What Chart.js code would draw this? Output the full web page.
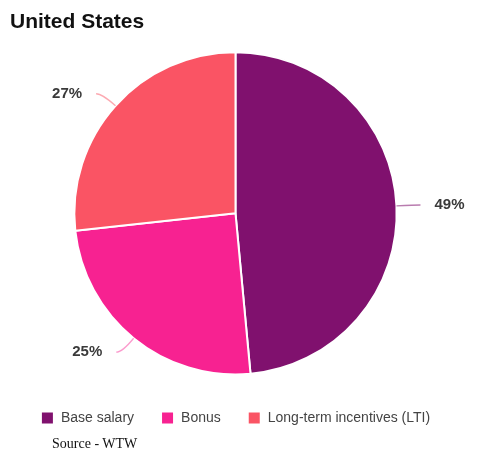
<!DOCTYPE html>
<html>
<head>
<meta charset="utf-8">
<script src="https://cdn.jsdelivr.net/npm/chart.js@4.4.0/dist/chart.umd.min.js"></script>
<style>
  body { margin: 0; background: #fff; }
  #wrap { position: relative; width: 492px; height: 460px; }
  #source {
    position: absolute; left: 52px; top: 436px;
    font: 14px "Liberation Serif", "Times New Roman", serif; color: #111;
  }
</style>
</head>
<body>
<div id="wrap">
  <canvas id="myChart" width="492" height="460"></canvas>
  <div id="source">Source - WTW</div>
</div>
<script>
const labels = ['Base salary', 'Bonus', 'Long-term incentives (LTI)'];
const shares = [49, 25, 27];
const colors = ['rgb(128, 17, 110)', 'rgb(247, 34, 145)', 'rgb(250, 84, 100)'];
const lineColors = ['rgba(128, 17, 110, 0.55)', 'rgba(247, 34, 145, 0.45)', 'rgba(250, 84, 100, 0.5)'];

// percentage labels with small curved leader lines
const outsideLabels = {
  id: 'outsideLabels',
  afterDatasetsDraw(chart) {
    const ctx = chart.ctx;
    const meta = chart.getDatasetMeta(0);
    meta.data.forEach((arc, i) => {
      const mid = (arc.startAngle + arc.endAngle) / 2;
      const cos = Math.cos(mid), sin = Math.sin(mid);
      const r = arc.outerRadius;
      const x0 = arc.x + cos * r, y0 = arc.y + sin * r;
      const x1 = arc.x + cos * (r + 18), y1 = arc.y + sin * (r + 18);
      const side = cos >= 0 ? 1 : -1;
      const x2 = x1 + side * 6, y2 = y1;
      ctx.save();
      ctx.strokeStyle = lineColors[i];
      ctx.lineWidth = 1.3;
      ctx.beginPath();
      ctx.moveTo(x0, y0);
      ctx.quadraticCurveTo(x1, y1, x2, y2);
      ctx.stroke();
      ctx.fillStyle = '#3a3a3a';
      ctx.font = 'bold 15px "Liberation Sans", Arial, sans-serif';
      ctx.textBaseline = 'middle';
      ctx.textAlign = side > 0 ? 'left' : 'right';
      ctx.fillText(shares[i] + '%', x2 + side * 14, y2);
      ctx.restore();
    });
  }
};

new Chart(document.getElementById('myChart'), {
  type: 'pie',
  data: {
    labels: labels,
    datasets: [{
      data: shares,
      backgroundColor: colors,
      borderColor: '#ffffff',
      borderWidth: 2
    }]
  },
  options: {
    responsive: false,
    animation: false,
    layout: { padding: { top: 0, bottom: 25, left: 10, right: 31 } },
    plugins: {
      title: {
        display: true,
        text: 'United States',
        align: 'start',
        color: '#111',
        font: { family: '"Liberation Sans", Arial, sans-serif', size: 21, weight: 'bold', lineHeight: 1.2 },
        padding: { top: 10, bottom: 16 }
      },
      legend: {
        position: 'bottom',
        title: { display: true, text: ' ', padding: 0, font: { size: 8.5, lineHeight: 1 } },
        labels: {
          boxWidth: 13,
          boxHeight: 13,
          padding: 27,
          color: '#444',
          font: { family: '"Liberation Sans", Arial, sans-serif', size: 14 }
        }
      },
      tooltip: { enabled: false }
    }
  },
  plugins: [outsideLabels]
});
</script>
</body>
</html>
